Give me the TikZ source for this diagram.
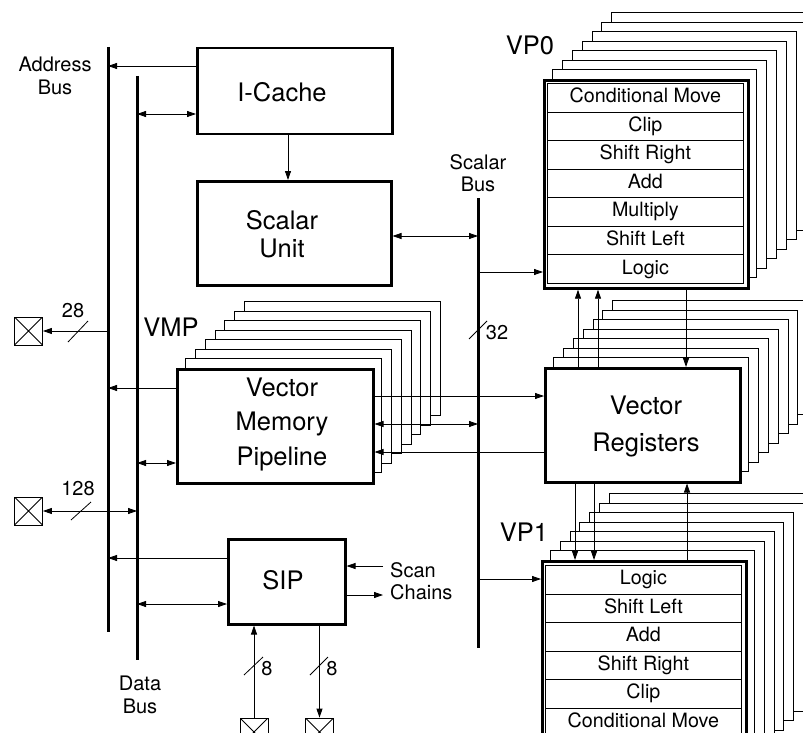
\documentclass[tikz,border=0pt]{standalone}
\usepackage{fontspec}
\setmainfont{TeX Gyre Heros}
\usetikzlibrary{arrows.meta,calc}
\begin{document}
\begin{tikzpicture}[x=1pt,y=-1pt,
  big/.style={font=\fontsize{25.5}{30}\selectfont},
  small/.style={font=\fontsize{20}{22.5}\selectfont},
  bus/.style={line width=3pt},
  box/.style={draw,line width=2.5pt,fill=white,anchor=north west,inner sep=0pt},
  frame/.style={draw,line width=0.8pt,fill=white},
  conn/.style={line width=0.8pt},
  arr/.style={conn,-{Triangle[length=9pt,width=6pt]}},
  darr/.style={conn,{Triangle[length=9pt,width=6pt]}-{Triangle[length=9pt,width=6pt]}},
  pin/.style={draw,line width=0.8pt,minimum size=28pt,inner sep=0pt,
    path picture={\draw[line width=0.8pt] (path picture bounding box.north west)--(path picture bounding box.south east)
      (path picture bounding box.north east)--(path picture bounding box.south west);}},
  row/.style={draw,line width=0.8pt,anchor=north west,minimum width=196pt,minimum height=28.57pt,inner sep=0pt,
    text height=14.5pt,text depth=4.5pt,font=\fontsize{19.7}{22}\selectfont},
  txt/.style={inner sep=0pt,align=center}
]
\useasboundingbox (0,0) rectangle (803,733);

% buses
\coordinate (abT) at (108,47);  \coordinate (abB) at (108,632);
\coordinate (dbT) at (137,76);  \coordinate (dbB) at (137,660);
\coordinate (sbT) at (478,198); \coordinate (sbB) at (478,648);
\draw[bus] (abT) -- (abB);
\draw[bus] (dbT) -- (dbB);
\draw[bus] (sbT) -- (sbB);
\node[small,txt] (ablab) at (55,76) {Address\\Bus};
\node[small,txt] (sblab) at (478,173) {Scalar\\Bus};
\node[small,txt] (dblab) at (140,695) {Data\\Bus};

% I-Cache and Scalar Unit
\node[box,minimum width=195pt,minimum height=86pt] (icache) at (196,47) {};
\node[big,txt] (icacheT) at (282,92) {I-Cache};
\node[box,minimum width=194pt,minimum height=104pt] (scalar) at (196,180) {};
\node[big,txt,font=\fontsize{25.5}{28}\selectfont] (scalarT) at (282,234) {Scalar\\Unit};

% VP0 stack
\foreach \i in {7,...,1} \draw[frame] ({543+\i*9.8},{79-\i*9.5}) rectangle ++(204,208);
\node[box,line width=2.7pt,minimum width=204pt,minimum height=208pt] (vp0) at (543,79) {};
\foreach [count=\k] \t in {Conditional Move,Clip,Shift Right,Add,Multiply,Shift Left,Logic}
  \node[row] (vp0r\k) at (547,{83+(\k-1)*28.57}) {\t};
\node[big,txt] (vp0lab) at (530,45) {VP0};

% Vector Registers stack
\foreach \i in {7,...,1} \draw[frame] ({544+\i*9.8},{367-\i*9.5}) rectangle ++(195,114);
\node[box,minimum width=195pt,minimum height=114pt] (vr) at (544,367) {};
\node[big,txt,font=\fontsize{25.5}{37}\selectfont] (vrT) at (646,426) {Vector\\Registers};

% VP1 stack
\foreach \i in {7,...,1} \draw[frame] ({541+\i*9.7},{560-\i*9.5}) rectangle ++(204,208);
\node[box,line width=2.7pt,minimum width=204pt,minimum height=208pt] (vp1) at (541,560) {};
\foreach [count=\k] \t in {Logic,Shift Left,Add,Shift Right,Clip,Conditional Move}
  \node[row,minimum height=28.5pt] (vp1r\k) at (545,{565+(\k-1)*28.5}) {\t};
\node[big,txt] (vp1lab) at (524,532) {VP1};

% VMP stack
\foreach \i in {7,...,1} \draw[frame] ({176+\i*9.75},{368-\i*9.45}) rectangle ++(196,114);
\node[box,minimum width=196pt,minimum height=114pt] (vmp) at (176,368) {};
\node[big,txt,font=\fontsize{25.5}{34.5}\selectfont] (vmpT) at (282,424) {Vector\\Memory\\Pipeline};
\node[big,txt] (vmplab) at (171,327) {VMP};

% SIP
\node[box,minimum width=117pt,minimum height=85pt] (sip) at (227,538) {};
\node[big,txt] (sipT) at (283,580) {SIP};
\node[small,txt,align=left,anchor=west] (scan) at (390,581) {Scan\\Chains};
\coordinate (scanin) at (383,566);
\coordinate (scanout) at (383,595);

% pins
\node[pin] (p28) at (28.5,331) {};
\node[pin] (p128) at (28.5,511) {};
\node[pin] (pin1) at (254,732) {};
\node[pin] (pin2) at (319.5,732) {};

% connectors
\draw[arr] (icache.west |- 0,66) -- (abT |- 0,66);
\draw[darr] (dbT |- 0,114) -- (icache.west |- 0,114);
\draw[arr] (icache.south -| 288,0) -- (scalar.north -| 288,0);
\draw[darr] (scalar.east |- 0,236) -- (sbT |- 0,236);
\draw[arr] (sbT |- 0,272) -- (vp0.west |- 0,272);
\draw[arr] (sbT |- 0,579) -- (vp1.west |- 0,579);

\draw[arr] (578,0 |- vr.north) -- (578,0 |- vp0.south);
\draw[arr] (598,0 |- vr.north) -- (598,0 |- vp0.south);
\draw[arr] (686,0 |- vp0.south) -- (686,0 |- vr.north);
\draw[arr] (575,0 |- vr.south) -- (575,0 |- vp1.north);
\draw[arr] (594,0 |- vr.south) -- (594,0 |- vp1.north);
\draw[arr] (687,0 |- vp1.north) -- (687,0 |- vr.south);

\draw[arr] (vmp.west |- 0,388) -- (abT |- 0,388);
\draw[darr] (dbT |- 0,463) -- (vmp.west |- 0,463);
\draw[arr] (vmp.east |- 0,396) -- (vr.west |- 0,396);
\draw[darr] (vmp.east |- 0,424) -- (sbT |- 0,424);
\draw[arr] (vr.west |- 0,452) -- (vmp.east |- 0,452);

\draw[arr] (sip.west |- 0,558) -- (abT |- 0,558);
\draw[darr] (dbT |- 0,604) -- (sip.west |- 0,604);
\draw[arr] (scanin) -- (sip.east |- scanin);
\draw[arr] (sip.east |- scanout) -- (scanout);
\draw[arr] (pin1.north) -- (pin1.north |- sip.south);
\draw[arr] (sip.south -| pin2.north) -- (pin2.north);

\draw[arr] (abT |- p28) -- (p28.east);
\draw[darr] (p128.east) -- (dbT |- p128);

% bus width marks
\draw[conn] (68,342) -- (88,321);
\node[small,txt] (l28) at (73,311) {28};
\draw[conn] (71,520) -- (91,502);
\node[small,txt] (l128) at (78,489) {128};
\draw[conn] (469,339) -- (487,321);
\node[small,txt] (l32) at (497,333) {32};
\draw[conn] (244,675) -- (263,657);
\node[small,txt] (l8a) at (267,669) {8};
\draw[conn] (310,675) -- (328,657);
\node[small,txt] (l8b) at (332,669) {8};
\end{tikzpicture}
\end{document}
